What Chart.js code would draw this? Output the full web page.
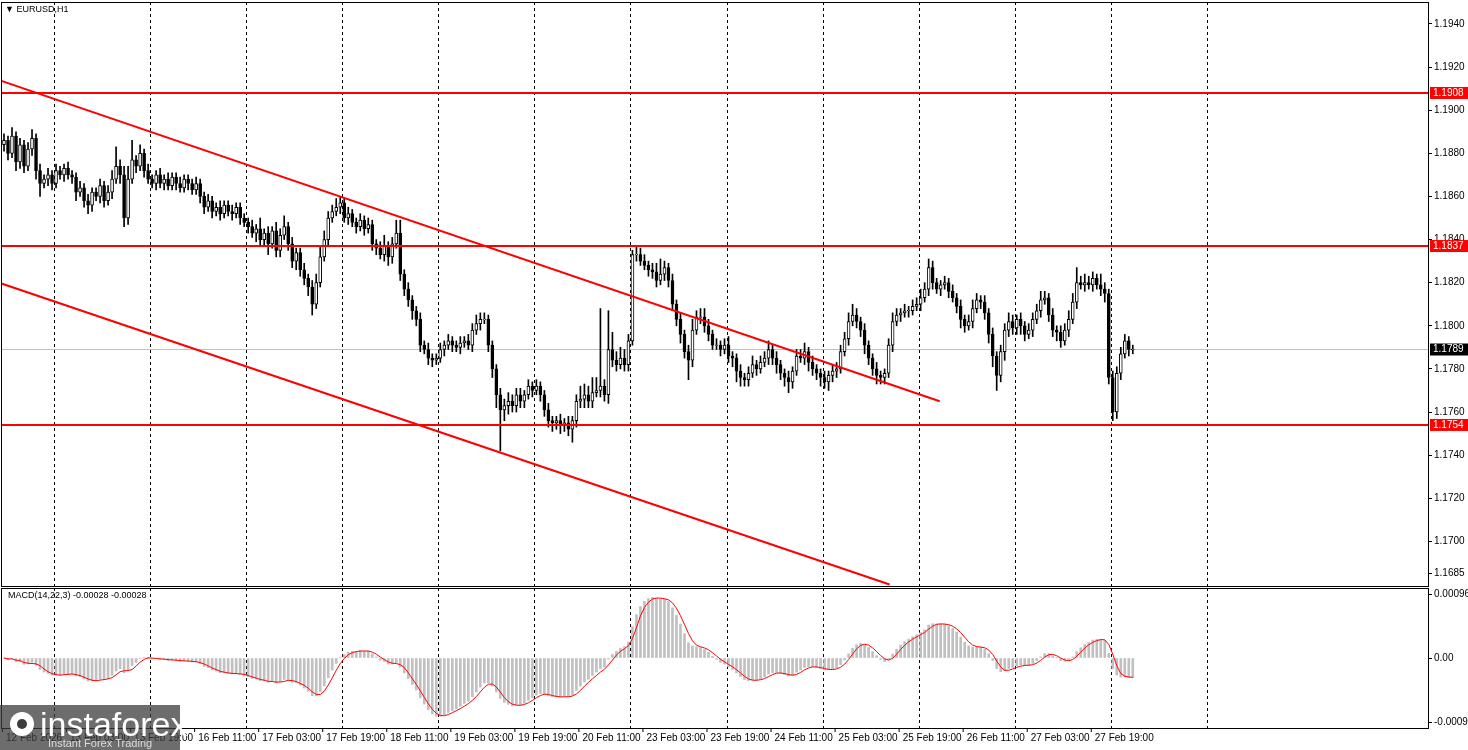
<!DOCTYPE html>
<html><head><meta charset="utf-8">
<script src="https://cdn.jsdelivr.net/npm/chart.js@4.4.1/dist/chart.umd.min.js"></script>
<style>html,body{margin:0;padding:0;background:#fff;overflow:hidden}#w{position:relative;width:1468px;height:750px}canvas{position:absolute;left:0}</style>
</head><body><div id="w"><canvas id="c1" width="1468" height="588" style="top:0"></canvas><canvas id="c2" width="1468" height="164" style="top:586px"></canvas></div>
<script>
const closes=[
1.1886,1.1880,1.1888,1.1876,1.1884,1.1874,1.1882,1.1887,1.1872,1.1866,
1.1868,1.1870,1.1866,1.1872,1.1870,1.1873,1.1870,1.1869,1.1862,1.1864,
1.1858,1.1856,1.1862,1.1860,1.1865,1.1858,1.1862,1.1868,1.1874,1.1870,
1.1850,1.1868,1.1877,1.1874,1.1880,1.1872,1.1868,1.1866,1.1870,1.1866,
1.1868,1.1865,1.1869,1.1866,1.1864,1.1868,1.1866,1.1863,1.1866,1.1860,
1.1855,1.1858,1.1853,1.1855,1.1852,1.1856,1.1853,1.1852,1.1855,1.1850,
1.1848,1.1846,1.1843,1.1845,1.1840,1.1843,1.1838,1.1844,1.1835,1.1842,
1.1846,1.1838,1.1830,1.1834,1.1826,1.1822,1.1818,1.1810,1.1820,1.1832,
1.1840,1.1850,1.1853,1.1855,1.1857,1.1850,1.1852,1.1848,1.1846,1.1849,
1.1845,1.1847,1.1838,1.1836,1.1833,1.1837,1.1832,1.1838,1.1843,1.1824,
1.1817,1.1812,1.1807,1.1803,1.1791,1.1789,1.1785,1.1784,1.1785,1.1789,
1.1791,1.1793,1.1791,1.1790,1.1792,1.1793,1.1791,1.1798,1.1801,1.1803,
1.1803,1.1791,1.1780,1.1768,1.1761,1.1763,1.1765,1.1763,1.1768,1.1765,
1.1768,1.1772,1.1770,1.1772,1.1768,1.1761,1.1756,1.1755,1.1756,1.1754,
1.1755,1.1752,1.1756,1.1765,1.1766,1.1768,1.1765,1.1769,1.1770,1.1772,
1.1768,1.1789,1.1784,1.1782,1.1785,1.1782,1.1793,1.1833,1.1833,1.1830,
1.1828,1.1826,1.1825,1.1821,1.1824,1.1827,1.1821,1.1810,1.1803,1.1796,
1.1788,1.1784,1.1798,1.1804,1.1804,1.1800,1.1796,1.1791,1.1791,1.1789,
1.1791,1.1786,1.1785,1.1779,1.1776,1.1775,1.1778,1.1782,1.1780,1.1783,
1.1785,1.1789,1.1785,1.1782,1.1778,1.1776,1.1774,1.1779,1.1786,1.1785,
1.1788,1.1783,1.1780,1.1778,1.1776,1.1774,1.1777,1.1779,1.1780,1.1788,
1.1794,1.1802,1.1805,1.1802,1.1798,1.1791,1.1785,1.1780,1.1777,1.1776,
1.1778,1.1791,1.1802,1.1805,1.1806,1.1807,1.1807,1.1809,1.1810,1.1813,
1.1817,1.1827,1.1820,1.1817,1.1819,1.1820,1.1816,1.1813,1.1809,1.1803,
1.1800,1.1802,1.1808,1.1812,1.1811,1.1806,1.1796,1.1786,1.1777,1.1788,
1.1798,1.1802,1.1799,1.1803,1.1800,1.1796,1.1798,1.1803,1.1807,1.1812,
1.1813,1.1805,1.1798,1.1797,1.1793,1.1798,1.1803,1.1811,1.1820,1.1819,
1.1820,1.1819,1.1822,1.1819,1.1817,1.1815,1.1776,1.1760,1.1778,1.1787,
1.1793,1.1789,1.1789];
const wickUp=[
3,2,4,2,3,2,3,4,2,3, 2,3,2,3,2,2,3,2,2,3, 2,3,2,2,3,2,3,4,9,3, 4,6,9,2,4,2,3,2,2,3,
2,3,2,2,3,2,2,2,3,2, 2,3,2,2,3,2,2,3,2,2, 2,2,3,2,5,2,3,2,4,3, 5,2,3,2,2,3,2,3,4,5,
4,3,3,4,3,2,3,2,2,3, 2,3,2,2,3,5,2,3,6,6, 2,3,2,2,3,2,3,2,2,3, 2,3,2,2,3,2,3,3,4,3,
3,2,2,2,3,3,4,3,3,3, 2,3,2,3,2,2,3,2,2,3, 2,3,2,3,6,5,4,7,6,36, 3,18,8,4,5,4,3,2,4,3,
3,2,3,4,7,3,2,3,2,3, 2,3,5,3,4,4,3,2,3,2, 3,4,2,2,3,2,3,4,2,3, 3,4,2,3,2,2,3,2,3,3,
4,2,3,2,2,3,2,3,3,3, 3,4,5,3,2,3,2,2,3,2, 2,3,4,3,2,3,2,3,3,4, 3,4,3,2,2,3,2,3,2,3,
2,3,4,3,2,3,2,3,2,3, 3,4,3,2,3,2,3,3,3,4, 3,2,3,2,3,3,4,4,7,3, 4,3,3,2,5,3,2,3,3,3, 3,2,2];
const wickDown=[
3,3,2,4,3,3,2,3,4,6, 2,3,3,2,2,3,2,3,4,2, 3,4,3,2,3,3,2,3,2,4, 4,3,2,3,2,3,2,2,3,2,
3,2,2,3,2,2,3,2,2,3, 3,2,3,2,3,2,2,3,2,3, 2,3,2,4,3,3,5,2,3,3, 2,3,3,4,3,3,4,5,2,2,
2,3,2,2,3,2,3,2,3,2, 3,2,3,3,2,3,4,3,2,3, 3,3,4,3,3,2,3,3,2,2, 3,2,3,2,3,2,2,3,2,3,
2,3,4,6,19,5,4,3,3,3, 3,2,3,2,3,3,3,4,3,4, 3,3,6,3,3,4,3,3,2,3, 3,4,3,3,2,3,3,2,3,2,
2,3,3,3,2,3,3,3,3,4, 3,9,3,2,3,3,3,2,2,3, 2,3,4,5,4,3,3,2,3,2, 2,3,3,4,3,4,5,3,2,2,
3,4,3,3,4,3,4,3,3,2, 2,3,2,3,3,4,3,3,4,3, 3,2,3,2,3,2,3,2,2,3, 2,3,3,2,3,2,3,2,3,4,
3,2,3,2,3,3,4,5,7,3, 4,3,3,3,4,3,2,3,2,3, 2,3,3,4,3,2,3,2,3,2, 3,2,3,2,3,4,3,4,3,3, 2,3,2];
const firstOpen=1.1884;
const timeLabels=["12 Feb 2026","13 Feb 03:00","13 Feb 19:00","16 Feb 11:00","17 Feb 03:00","17 Feb 19:00","18 Feb 11:00","19 Feb 03:00","19 Feb 19:00","20 Feb 11:00","23 Feb 03:00","23 Feb 19:00","24 Feb 11:00","25 Feb 03:00","25 Feb 19:00","26 Feb 11:00","27 Feb 03:00","27 Feb 19:00"];
const priceTicks=[1.1940,1.1920,1.1900,1.1880,1.1860,1.1840,1.1820,1.1800,1.1780,1.1760,1.1740,1.1720,1.1700,1.1685];
const levels=[1.1908,1.1837,1.1754];
const lastPrice=1.1789;
const upperTrendX=[-1.25,233.75], upperTrendY=[1.1914,1.1765];
const lowerTrendX=[-1.25,221.25], lowerTrendY=[1.1820,1.1680];
const macdTicks=[0.00096,0,-0.00098];
const macdFast=14, macdSlow=22, macdSig=3;

const N=closes.length, XMIN=-0.75, XMAX=355.75;
const opens=closes.map((c,i)=>i?closes[i-1]:firstOpen);
const body=[],wick=[],bodyCol=[];
for(let i=0;i<N;i++){const o=opens[i],c=closes[i];const lo=Math.min(o,c),hi=Math.max(o,c);
 const b=hi-lo<0.00003?[lo-0.000015,hi+0.000015]:[lo,hi];
 body.push({x:i,y:b});bodyCol.push(c>=o?'#fff':'#000');
 wick.push({x:i,y:[lo-wickDown[i]*0.0001,hi+wickUp[i]*0.0001]});}
let ef=closes[0],es=closes[0];const main=[],sig=[];
closes.forEach((c,i)=>{ef+= (c-ef)*2/(macdFast+1);es+=(c-es)*2/(macdSlow+1);main.push(ef-es);
 const s=main.slice(Math.max(0,i-macdSig+1));sig.push(s.reduce((a,b)=>a+b,0)/s.length);});

const FONT='"Liberation Sans", Arial, sans-serif';
function gridPlugin(isMain){return{id:'g',beforeDatasetsDraw(ch){const {ctx,chartArea:a,scales:{x}}=ch;ctx.save();ctx.strokeStyle='#000';ctx.lineWidth=1;ctx.setLineDash([3,3]);
 for(let k=0;k<13;k++){const px=Math.round(x.getPixelForValue(12.5+24*k))+0.5;ctx.beginPath();ctx.moveTo(px,a.top);ctx.lineTo(px,a.bottom);ctx.stroke();}
 ctx.restore();},
 afterDraw(ch){const {ctx,chartArea:a,scales}=ch;ctx.save();ctx.strokeStyle='#000';ctx.lineWidth=1;ctx.strokeRect(a.left+0.5,a.top+0.5,a.right-a.left,a.bottom-a.top);
 ctx.font='10px '+FONT;ctx.textBaseline='middle';
 if(isMain){const y=scales.y;
  ctx.fillStyle='#000';ctx.font='9px '+FONT;ctx.fillText('\u25BC EURUSD,H1',5,10);ctx.font='10px '+FONT;
  const box=(v,bg)=>{const py=y.getPixelForValue(v);ctx.fillStyle=bg;ctx.fillRect(a.right+2,py-6,38,12);ctx.fillStyle='#fff';ctx.fillText(v.toFixed(4),a.right+5,py);};
  levels.forEach(v=>box(v,'#ff0000'));box(lastPrice,'#000');
 } else {
  ctx.fillStyle='#000';ctx.font='9px '+FONT;ctx.fillText('MACD(14,22,3) -0.00028 -0.00028',8,10);
  ctx.font='10px '+FONT;ctx.textBaseline='top';const x=scales.x;
  timeLabels.forEach((t,k)=>{const px=x.getPixelForValue(-0.5+16*k);ctx.fillText(t,px+4,147);ctx.beginPath();ctx.moveTo(px+0.5,a.bottom);ctx.lineTo(px+0.5,a.bottom+4);ctx.stroke();});
  ctx.fillStyle='rgba(60,60,60,0.75)';ctx.fillRect(0,119,180,45);
  ctx.fillStyle='#fff';ctx.font='34px '+FONT;ctx.textBaseline='alphabetic';ctx.fillText('instaforex',40,150);
  ctx.font='11px '+FONT;ctx.fillStyle='#ddd';ctx.fillText('Instant Forex Trading',48,161);
  ctx.fillStyle='#fff';ctx.beginPath();ctx.arc(22,138,12,0,Math.PI*2);ctx.fill();ctx.fillStyle='rgba(60,60,60,1)';ctx.beginPath();ctx.arc(22,138,5,0,Math.PI*2);ctx.fill();
 }
 ctx.restore();}};}
const xScale={type:'linear',min:XMIN,max:XMAX,display:false,offset:false,grid:{display:false}};
const noPad=s=>{s.width=40;s.paddingTop=0;s.paddingBottom=0;};
Chart.defaults.font.family=FONT;
new Chart(document.getElementById('c1'),{type:'bar',
 data:{datasets:[
  ...levels.map(v=>({type:'line',data:[{x:XMIN,y:v},{x:XMAX,y:v}],borderColor:'#ff0000',borderWidth:2,pointRadius:0,order:0})),
  {type:'line',data:[{x:XMIN,y:lastPrice},{x:XMAX,y:lastPrice}],borderColor:'#c0c0c0',borderWidth:1,pointRadius:0,order:5},
  {type:'line',data:upperTrendX.map((x,i)=>({x,y:upperTrendY[i]})),borderColor:'#ff0000',borderWidth:2,pointRadius:0,order:0},
  {type:'line',data:lowerTrendX.map((x,i)=>({x,y:lowerTrendY[i]})),borderColor:'#ff0000',borderWidth:2,pointRadius:0,order:0},
  {data:wick,backgroundColor:'#000',barThickness:1,order:3,grouped:false},
  {data:body,backgroundColor:bodyCol,borderColor:'#000',borderWidth:1,borderSkipped:false,barThickness:3,order:2,grouped:false}]},
 options:{animation:false,responsive:false,devicePixelRatio:1,events:[],layout:{padding:{left:1,top:2,bottom:2,right:0}},
  plugins:{legend:{display:false},tooltip:{enabled:false}},
  scales:{x:xScale,y:{position:'right',min:1.16793,max:1.19502,grid:{drawOnChartArea:false,tickLength:4,color:'#000'},border:{color:'#000'},
   afterBuildTicks:s=>{s.ticks=priceTicks.map(v=>({value:v}));},afterFit:noPad,
   ticks:{color:'#000',font:{size:10},padding:2,callback:v=>v.toFixed(4)}}}},
 plugins:[gridPlugin(true)]});
new Chart(document.getElementById('c2'),{type:'bar',
 data:{datasets:[
  {type:'line',data:sig.map((v,i)=>({x:i,y:v})),borderColor:'#ff0000',borderWidth:1,pointRadius:0,tension:0,order:0},
  {data:main.map((v,i)=>({x:i,y:v})),backgroundColor:'#c0c0c0',barThickness:2,order:1}]},
 options:{animation:false,responsive:false,devicePixelRatio:1,events:[],layout:{padding:{left:1,top:2,bottom:22,right:0}},
  plugins:{legend:{display:false},tooltip:{enabled:false}},
  scales:{x:xScale,y:{position:'right',min:-0.00106,max:0.00106,grid:{drawOnChartArea:false,tickLength:4,color:'#000'},border:{color:'#000'},
   afterBuildTicks:s=>{s.ticks=macdTicks.map(v=>({value:v}));},afterFit:noPad,
   ticks:{color:'#000',font:{size:10},padding:2,callback:v=>v===0?'0.00':v.toFixed(5)}}}},
 plugins:[gridPlugin(false)]});
</script></body></html>
